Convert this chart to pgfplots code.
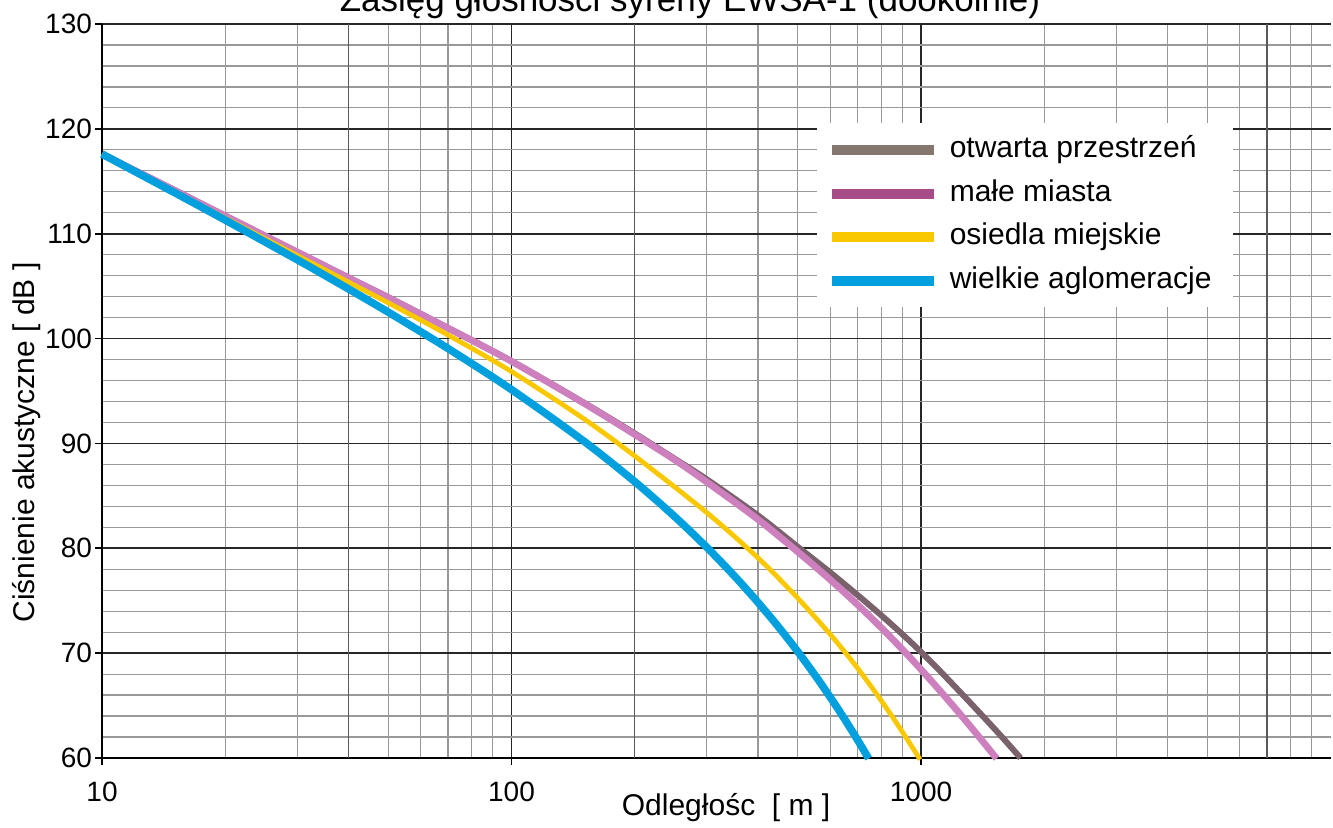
\documentclass[border=0pt]{standalone}
\usepackage{fontspec}
\setmainfont{Liberation Sans}
\usepackage{pgfplots}
\pgfplotsset{compat=1.18}
\definecolor{brownline}{RGB}{122,98,108}
\definecolor{brownleg}{RGB}{133,118,112}
\definecolor{pinkline}{RGB}{206,128,190}
\definecolor{pinkleg}{RGB}{168,76,136}
\definecolor{yellowline}{RGB}{250,200,0}
\definecolor{blueline}{RGB}{0,160,222}
\begin{document}
\begin{tikzpicture}
\begin{axis}[
  at={(51pt,35pt)}, anchor=south west,
  scale only axis, width=614.25pt, height=367pt,
  xmode=log, xmin=10, xmax=10000, ymin=60, ymax=130,
  xtick={10,100,1000}, xticklabels={10,100,1000},
  minor xtick={20,30,40,50,60,70,80,90,200,300,400,500,600,700,800,900,2000,3000,4000,5000,6000,7000,8000,9000},
  ytick={60,70,80,90,100,110,120,130},
  minor ytick={62,64,66,68,72,74,76,78,82,84,86,88,92,94,96,98,102,104,106,108,112,114,116,118,122,124,126,128},
  extra x ticks={40,200,7000}, extra x tick labels={},
  extra x tick style={grid=major, major grid style={black!65, line width=0.7pt}, major tick length=0pt},
  grid=both,
  major grid style={black!85, line width=0.8pt},
  minor grid style={black!40, line width=0.6pt},
  axis x line*=bottom, axis y line*=left,
  x axis line style={black, line width=0.9pt},
  y axis line style={black, line width=1.3pt},
  tick align=outside, major tick length=3.5pt, minor tick length=0pt,
  tick style={black, line width=0.8pt},
  /pgf/number format/assume math mode=true,
  tick label style={font=\fontsize{14}{16}\selectfont},
  xticklabel style={yshift=-5pt},
  yticklabel style={xshift=2pt},
  xlabel={Odległośc\ \ [ m ]},
  ylabel={Ciśnienie akustyczne [ dB ]},
  label style={font=\fontsize{15}{18}\selectfont},
  xlabel style={at={(axis description cs:0.508,-0.068)}, anchor=center},
  ylabel style={at={(axis description cs:-0.061,0.43)}, anchor=center},
  legend style={at={(0.5815,0.865)}, anchor=north west, draw=none, fill=white,
    inner xsep=5pt, inner ysep=5pt, row sep=5.3pt,
    font=\fontsize{15}{18}\selectfont,
    nodes={text height=11pt, text depth=3.5pt, inner ysep=1pt, inner xsep=5.5pt}},
  legend cell align=left,
  clip=false,
]
\addplot[color=brownline, line width=3pt, smooth,
  legend image code/.code={\draw[brownleg, line width=5pt] (0pt,0pt) -- (51pt,0pt);}]
coordinates {(10,117.6) (15,114.2) (20,111.7) (30,108.25) (40,105.8) (50,103.95) (70,101.0) (100,97.85) (150,93.9) (200,90.95) (250,88.55) (300,86.57) (400,83.13) (500,80.14) (600,77.7) (700,75.54) (800,73.6) (900,71.81) (1000,70.12) (1100,68.5) (1260,66.09) (1400,64.19) (1575,62.02) (1750,60.0)};
\addlegendentry{otwarta przestrzeń}
\addplot[color=pinkline, line width=3.4pt, smooth,
  legend image code/.code={\draw[pinkleg, line width=5pt] (0pt,0pt) -- (51pt,0pt);}]
coordinates {(10,117.6) (15,114.15) (20,111.7) (30,108.25) (40,105.8) (50,103.9) (70,101.0) (100,97.83) (150,93.85) (200,90.85) (250,88.45) (300,86.31) (400,82.75) (500,79.66) (600,77.01) (700,74.62) (800,72.42) (900,70.37) (1000,68.45) (1125,66.2) (1250,64.12) (1378,62.13) (1530,59.95)};
\addlegendentry{małe miasta}
\addplot[color=yellowline, line width=2.4pt, smooth,
  legend image code/.code={\draw[yellowline, line width=5pt] (0pt,0pt) -- (51pt,0pt);}]
coordinates {(10,117.6) (15,114.0) (20,111.49) (30,107.92) (40,105.38) (50,103.41) (70,100.34) (100,96.85) (150,92.36) (200,88.8) (300,83.39) (400,79.08) (500,75.25) (600,71.8) (650,70.16) (700,68.57) (770,66.38) (835,64.41) (910,62.22) (995,59.85)};
\addlegendentry{osiedla miejskie}
\addplot[color=blueline, line width=3.8pt, smooth,
  legend image code/.code={\draw[blueline, line width=5pt] (0pt,0pt) -- (51pt,0pt);}]
coordinates {(10,117.6) (15,113.94) (20,111.3) (30,107.51) (40,104.73) (50,102.52) (70,99.05) (100,95.13) (150,90.23) (200,86.35) (250,83.04) (300,80.08) (350,77.37) (400,74.83) (450,72.44) (500,70.15) (550,67.94) (600,65.81) (650,63.74) (700,61.72) (745,59.95)};
\addlegendentry{wielkie aglomeracje}
\end{axis}
\node[anchor=base, font=\fontsize{17.5}{20}\selectfont] at (345pt,408pt) {Zasięg głośności syreny EWSA-1 (dookólnie)};
\pgfresetboundingbox
\path (0pt,0pt) rectangle (666.5pt,414pt);
\end{tikzpicture}
\end{document}
